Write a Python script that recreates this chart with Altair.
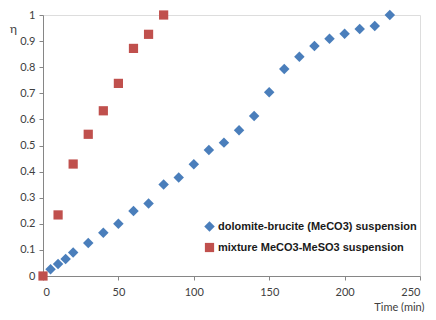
import altair as alt
import pandas as pd

s1_name = "dolomite-brucite (MeCO3) suspension"
s2_name = "mixture MeCO3-MeSO3 suspension"

s1_time = [5, 10, 15, 20, 30, 40, 50, 60, 70, 80, 90, 100, 110, 120, 130, 140, 150,
           160, 170, 180, 190, 200, 210, 220, 230]
s1_eta = [0.026, 0.046, 0.065, 0.09, 0.126, 0.166, 0.2, 0.249, 0.278, 0.351, 0.377,
          0.428, 0.483, 0.511, 0.558, 0.613, 0.704, 0.793, 0.84, 0.881, 0.909, 0.928,
          0.946, 0.958, 1.0]

s2_time = [0, 10, 20, 30, 40, 50, 60, 70, 80]
s2_eta = [0.0, 0.234, 0.429, 0.543, 0.633, 0.738, 0.872, 0.926, 1.0]

df = pd.concat([
    pd.DataFrame({"time": s1_time, "eta": s1_eta, "series": s1_name}),
    pd.DataFrame({"time": s2_time, "eta": s2_eta, "series": s2_name}),
])

axis_font = "Lato"
W = 377
H = 261

chart = alt.Chart(df).mark_point(filled=True, opacity=1, strokeWidth=0).encode(
    x=alt.X("time:Q",
            scale=alt.Scale(domain=[0, 250], nice=False, zero=False),
            axis=alt.Axis(values=[0, 50, 100, 150, 200, 250], grid=False,
                          title="Time (min)", titleAngle=0, titleAlign="right",
                          titleX=W + 4, titleY=31, titleBaseline="middle",
                          titleFont=axis_font, titleFontSize=11, titleFontWeight="normal",
                          titleColor="#404040",
                          labelFont=axis_font, labelFontSize=11, labelColor="#404040",
                          labelPadding=6, tickSize=4, domainColor="#868686",
                          tickColor="#868686")),
    y=alt.Y("eta:Q",
            scale=alt.Scale(domain=[0, 1], nice=False, zero=False),
            axis=alt.Axis(values=[0, 0.1, 0.2, 0.3, 0.4, 0.5, 0.6, 0.7, 0.8, 0.9, 1.0],
                          format="~g",
                          grid=False, title="η", titleAngle=0, titleAlign="center",
                          titleX=-30, titleY=13, titleBaseline="middle",
                          titleFont=axis_font, titleFontSize=12, titleFontWeight="normal",
                          titleColor="#404040",
                          labelFont=axis_font, labelFontSize=11, labelColor="#404040",
                          labelPadding=4, tickSize=4, domainColor="#868686",
                          tickColor="#868686")),
    color=alt.Color("series:N",
                    scale=alt.Scale(domain=[s1_name, s2_name], range=["#4A7EBB", "#C0504D"]),
                    legend=alt.Legend(orient="none", legendX=161, legendY=206, title=None,
                                      labelFont="Liberation Sans", labelFontSize=11,
                                      labelFontWeight="bold", labelColor="#1a1a1a",
                                      labelLimit=300,
                                      symbolSize=45, rowPadding=9, labelOffset=3,
                                      padding=0, symbolStrokeWidth=0)),
    shape=alt.Shape("series:N",
                    scale=alt.Scale(domain=[s1_name, s2_name], range=["diamond", "square"]),
                    legend=None),
    size=alt.Size("series:N",
                  scale=alt.Scale(domain=[s1_name, s2_name], range=[110, 85]),
                  legend=None),
).properties(
    width=W, height=H,
    padding={"left": 35, "top": 7, "right": 8, "bottom": 36},
    autosize=alt.AutoSizeParams(type="none"),
).configure_view(stroke=None).configure(background="white")

chart.save("out.html", embed_options={"renderer": "svg", "actions": False})
